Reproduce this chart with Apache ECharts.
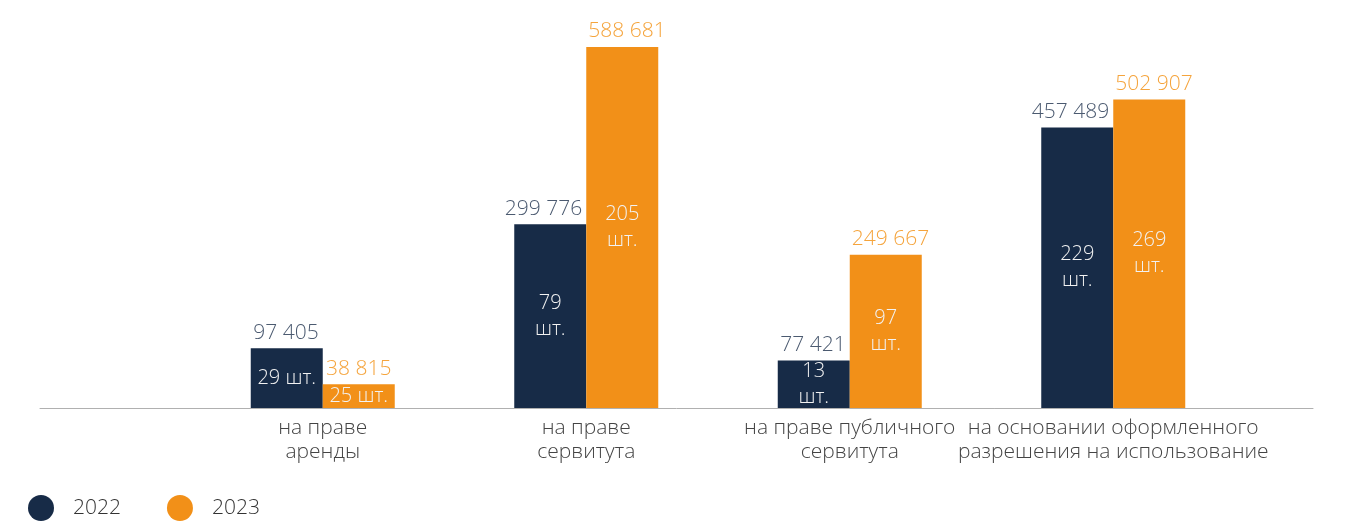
<!DOCTYPE html>
<html>
<head>
<meta charset="utf-8">
<script src="https://cdn.jsdelivr.net/npm/echarts@6/dist/echarts.min.js"></script>
<style>
  html, body { margin: 0; padding: 0; background: #ffffff; }
  #chart { width: 1348px; height: 521px; }
</style>
</head>
<body>
<div id="chart"></div>
<script>
// Categories of land use
const categories = [
  'на праве\nаренды',
  'на праве\nсервитута',
  'на праве публичного\nсервитута',
  'на основании оформленного\nразрешения на использование'
];
const years = ['2022', '2023'];
// Area values per category
const values2022 = [97405, 299776, 77421, 457489];
const values2023 = [38815, 588681, 249667, 502907];
// Number of items per category
const counts2022 = [29, 79, 13, 229];
const counts2023 = [25, 205, 97, 269];

const NAVY = '#172b47';
const ORANGE = '#f29018';
const FONT = '"Open Sans"';
const WEIGHT = 300;

function fmt(v) {
  return String(v).replace(/\B(?=(\d{3})+(?!\d))/g, ' ');
}

// Short bars get the count on one line, taller bars on two
function countText(n, oneLine) {
  return oneLine ? n + ' шт.' : n + '\nшт.';
}

function barSeries(name, values, counts, color, oneLine) {
  return {
    name: name,
    type: 'bar',
    xAxisIndex: 0,
    yAxisIndex: 0,
    barWidth: 72,
    barGap: '0%',
    itemStyle: { color: color },
    label: {
      show: true,
      position: 'inside',
      formatter: p => countText(counts[p.dataIndex], oneLine[p.dataIndex]),
      color: '#f2f2f2',
      fontFamily: FONT,
      fontWeight: WEIGHT,
      fontSize: 20,
      lineHeight: 26
    },
    data: values
  };
}

// Transparent copies on an overlaid axis carry the value labels above bars.
// Wide labels are pushed away from the neighbouring bar of the pair.
function valueSeries(name, values, color, side) {
  return {
    name: name,
    type: 'bar',
    xAxisIndex: 2,
    yAxisIndex: 0,
    barWidth: 72,
    barGap: '0%',
    silent: true,
    z: 3,
    itemStyle: { color: 'rgba(0,0,0,0)' },
    label: {
      show: true,
      position: 'top',
      distance: 5,
      formatter: p => fmt(p.value),
      color: color,
      fontFamily: FONT,
      fontWeight: WEIGHT,
      fontSize: 21
    },
    labelLayout: p => {
      const lr = p.labelRect, r = p.rect;
      if (side === 'left') {
        return {
          x: Math.min(lr.x + lr.width, r.x + r.width - 4),
          y: lr.y, align: 'right', verticalAlign: 'top'
        };
      }
      return {
        x: Math.max(lr.x, r.x + 2),
        y: lr.y, align: 'left', verticalAlign: 'top'
      };
    },
    data: values
  };
}

const oneLine2022 = [true, false, false, false];
const oneLine2023 = [true, false, false, false];

const option = {
  animation: false,
  backgroundColor: '#ffffff',
  textStyle: { fontFamily: FONT },
  legend: {
    data: years,
    left: 28,
    top: 495,
    padding: 0,
    icon: 'circle',
    itemWidth: 26,
    itemHeight: 26,
    itemGap: 46,
    textStyle: { color: '#333333', fontSize: 21, fontFamily: FONT, fontWeight: WEIGHT, padding: [0, 0, 0, 14] }
  },
  grid: [
    { left: 191, right: 103, top: 40, bottom: 113 },
    { left: 40, right: 35, top: 40, bottom: 113 }
  ],
  xAxis: [
    {
      type: 'category',
      gridIndex: 0,
      data: categories,
      axisLine: { show: false },
      axisTick: { show: false },
      axisLabel: {
        color: '#444444',
        fontFamily: FONT,
        fontWeight: WEIGHT,
        fontSize: 21,
        lineHeight: 24,
        margin: 8,
        interval: 0
      }
    },
    {
      type: 'category',
      gridIndex: 1,
      data: [''],
      axisLine: { show: true, lineStyle: { color: '#b0b0b0', width: 1 } },
      axisTick: { show: false },
      axisLabel: { show: false }
    },
    {
      type: 'category',
      gridIndex: 0,
      data: categories,
      show: false
    }
  ],
  yAxis: [
    { type: 'value', gridIndex: 0, min: 0, max: 600000, show: false },
    { type: 'value', gridIndex: 1, min: 0, max: 600000, show: false }
  ],
  series: [
    barSeries('2022', values2022, counts2022, NAVY, oneLine2022),
    barSeries('2023', values2023, counts2023, ORANGE, oneLine2023),
    valueSeries('2022 значения', values2022, '#4b5a70', 'left'),
    valueSeries('2023 значения', values2023, '#f5a43c', 'right')
  ]
};

const chart = echarts.init(document.getElementById('chart'), null, { renderer: 'canvas' });
chart.setOption(option);
</script>
</body>
</html>
